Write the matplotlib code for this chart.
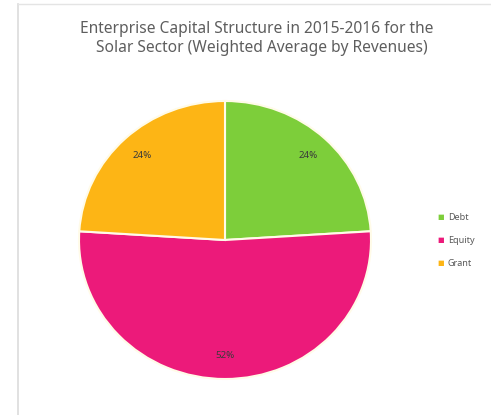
import numpy as np
import matplotlib.pyplot as plt
from matplotlib.lines import Line2D

plt.rcParams['font.family'] = ['Noto Sans', 'DejaVu Sans']

labels = ['Debt', 'Equity', 'Grant']
shares = [24, 52, 24]
colors = ['#7dce3a', '#ec1a7a', '#fdb515']

W, H = 491, 415
fig = plt.figure(figsize=(W / 100, H / 100), dpi=100)

# light frame along the top and left edge
fig.add_artist(Line2D([18 / W, 18 / W], [0, 1 - 4 / H], color='#dcdcdc', lw=1.2))
fig.add_artist(Line2D([18 / W, 1], [1 - 4 / H, 1 - 4 / H], color='#e4e4e4', lw=1.0))

fig.text(257 / W, 1 - 29 / H, 'Enterprise Capital Structure in 2015-2016 for the',
         ha='center', va='center', fontsize=11.2, color='#5e5e5e')
fig.text(262 / W, 1 - 48 / H, 'Solar Sector (Weighted Average by Revenues)',
         ha='center', va='center', fontsize=11.2, color='#5e5e5e')

# pie is slightly squashed, so the axes are not square
cx, cy, rx, ry = 225, 240, 146, 139
ax = fig.add_axes([(cx - rx) / W, 1 - (cy + ry) / H, 2 * rx / W, 2 * ry / H])
wedges, texts, autotexts = ax.pie(
    shares, colors=colors, startangle=90, counterclock=False,
    autopct='%d%%', pctdistance=0.83,
    wedgeprops=dict(edgecolor='#fffbe8', linewidth=1.5),
    textprops=dict(fontsize=7, color='#3a3a3a', weight='semibold'))
ax.set_aspect('auto')
ax.set_xlim(-1, 1)
ax.set_ylim(-1, 1)

# legend
for i, (lab, col) in enumerate(zip(labels, colors)):
    y = 1 - (217 + i * 23.5) / H
    fig.text(441 / W, y, '\u25a0', color=col, fontsize=5, ha='center', va='center')
    fig.text(448 / W, y, lab, color='#595959', fontsize=6.5, ha='left', va='center')

fig.savefig('out.png', dpi=100)
